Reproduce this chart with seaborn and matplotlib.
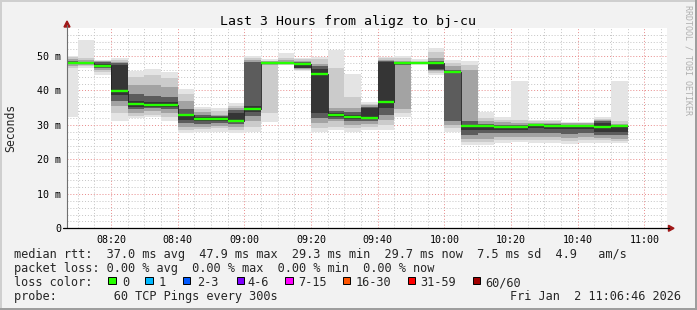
import numpy as np
import pandas as pd
import matplotlib
matplotlib.use("Agg")
import matplotlib.pyplot as plt
from matplotlib.lines import Line2D
from matplotlib.patches import Rectangle, Polygon
import seaborn as sns

# ---------------- data ----------------
bin_times = ["08:05", "08:10", "08:15", "08:20", "08:25", "08:30", "08:35", "08:40", "08:45",
             "08:50", "08:55", "09:00", "09:05", "09:10", "09:15", "09:20", "09:25", "09:30",
             "09:35", "09:40", "09:45", "09:50", "09:55", "10:00", "10:05", "10:10", "10:15",
             "10:20", "10:25", "10:30", "10:35", "10:40", "10:45", "10:50"]
median_ms = [47.9, 47.9, 47.1, 39.8, 36.1, 35.8, 35.8, 32.9, 31.8, 31.8, 31.1, 34.6, 47.9, 47.9,
             47.6, 44.8, 32.9, 32.4, 32.1, 36.7, 47.9, 47.9, 47.9, 45.4, 29.7, 29.7, 29.4, 29.4,
             30.0, 29.7, 29.7, 29.7, 29.3, 29.7]
# smoke layers: ping ranges, outermost (min/max) to innermost
layer1_lo = [32.4, 46.6, 44.6, 31.0, 31.9, 32.3, 31.0, 27.5, 28.0, 28.0, 27.6, 28.0, 30.8, 47.3, 45.5, 28.0, 28.5,
             28.0, 28.5, 28.5, 32.4, 47.5, 44.5, 28.0, 24.1, 24.1, 24.8, 25.1, 24.6, 24.6, 24.4, 24.6, 24.6, 24.6]
layer1_hi = [50.1, 54.6, 48.9, 49.3, 45.6, 46.2, 45.4, 40.4, 35.3, 34.8, 36.3, 50.1, 49.0, 50.8, 49.5, 49.8, 51.7,
             44.7, 36.6, 49.8, 50.1, 49.0, 52.4, 48.8, 48.4, 33.8, 32.2, 42.8, 31.4, 31.4, 30.9, 30.9, 32.4, 42.8]
layer2_lo = [46.5, 47.0, 45.3, 33.5, 32.7, 33.0, 32.3, 28.5, 28.8, 29.0, 28.6, 29.5, 33.5, 47.5, 46.0, 29.0, 29.5,
             29.0, 29.5, 30.0, 33.5, 47.6, 45.0, 29.0, 25.0, 25.0, 25.5, 25.5, 25.5, 25.5, 25.3, 25.5, 25.5, 25.2]
layer2_hi = [49.8, 49.3, 48.6, 48.7, 44.0, 44.5, 43.5, 39.0, 34.5, 34.0, 35.5, 49.5, 48.6, 49.5, 49.0, 49.0, 46.4,
             38.0, 36.0, 49.3, 49.3, 48.6, 51.0, 48.0, 47.5, 32.0, 31.5, 31.5, 31.0, 31.0, 30.6, 30.6, 31.8, 31.0]
layer3_lo = [47.2, 47.4, 46.0, 35.5, 33.5, 34.0, 33.5, 29.5, 29.5, 29.8, 29.5, 31.0, 47.3, 47.7, 46.3, 30.5, 31.0,
             30.0, 30.3, 31.5, 34.5, 47.7, 45.5, 30.0, 26.0, 26.0, 26.5, 26.5, 26.5, 26.5, 26.3, 26.5, 26.3, 26.0]
layer3_hi = [49.0, 48.8, 48.4, 48.3, 41.5, 41.5, 41.0, 37.0, 33.8, 33.0, 34.8, 48.7, 48.4, 48.7, 48.5, 47.8, 35.0,
             35.0, 35.8, 48.9, 48.5, 48.3, 49.5, 47.0, 46.0, 31.0, 30.8, 30.5, 30.6, 30.5, 30.4, 30.4, 31.3, 30.2]
layer4_lo = [47.6, 47.7, 46.5, 37.0, 34.5, 34.8, 34.5, 30.5, 30.3, 30.5, 30.3, 32.5, 47.6, 47.8, 46.5, 32.0, 31.8,
             31.0, 31.0, 33.0, 47.5, 47.8, 45.8, 31.0, 27.0, 27.5, 27.5, 27.5, 27.5, 27.5, 27.3, 27.5, 27.0, 27.0]
layer4_hi = [48.4, 48.3, 48.2, 48.0, 39.0, 38.5, 38.0, 34.5, 33.0, 32.5, 34.3, 48.1, 48.2, 48.3, 48.2, 47.0, 34.0,
             33.8, 35.3, 48.5, 48.2, 48.1, 48.5, 45.8, 31.0, 30.3, 30.0, 30.0, 30.3, 30.2, 30.1, 30.1, 31.0, 29.9]
layer5_lo = [47.8, 47.85, 46.9, 38.8, 35.3, 35.3, 35.2, 31.5, 31.0, 31.2, 30.8, 33.8, 47.8, 47.85, 46.6, 33.5, 32.3,
             31.7, 31.6, 35.0, 47.8, 47.85, 46.3, 45.0, 28.5, 28.5, 28.5, 28.5, 29.0, 28.8, 28.7, 28.8, 28.0, 28.0]
layer5_hi = [48.1, 48.0, 47.8, 47.5, 36.8, 36.5, 36.5, 33.2, 32.3, 32.2, 33.5, 35.5, 48.0, 48.0, 47.8, 46.2, 33.4,
             33.0, 34.8, 48.2, 48.0, 48.0, 48.0, 45.7, 30.0, 30.0, 29.8, 29.8, 30.2, 30.0, 30.0, 30.0, 30.5, 29.8]

x_tick_labels = ["08:20", "08:40", "09:00", "09:20", "09:40", "10:00", "10:20", "10:40", "11:00"]
y_tick_values = [0, 10, 20, 30, 40, 50]
y_tick_labels = ["0", "10 m", "20 m", "30 m", "40 m", "50 m"]
range_start, range_end = "08:06:46", "11:06:46"

title = "Last 3 Hours from aligz to bj-cu"
legend_line1 = "median rtt:  37.0 ms avg  47.9 ms max  29.3 ms min  29.7 ms now  7.5 ms sd  4.9   am/s"
legend_line2 = "packet loss: 0.00 % avg  0.00 % max  0.00 % min  0.00 % now"
legend_line4 = "probe:        60 TCP Pings every 300s"
date_text = "Fri Jan  2 11:06:46 2026"
loss_labels = ["0", "1", "2-3", "4-6", "7-15", "16-30", "31-59", "60/60"]
loss_colors = ["#26ff00", "#00b8ff", "#0059ff", "#7e00ff", "#ff00ff", "#ff5500", "#ff0000", "#a10000"]


def to_min(s):
    parts = [int(p) for p in s.split(":")]
    while len(parts) < 3:
        parts.append(0)
    return (parts[0] - 8) * 60 + parts[1] + parts[2] / 60.0


starts = np.array([to_min(t) for t in bin_times])
BIN = 5.0

# ---------------- figure ----------------
sns.set_style("white")
plt.rcParams["font.family"] = ["DejaVu Sans Mono"]

W, H, DPI = 697, 310, 100
fig = plt.figure(figsize=(W / DPI, H / DPI), dpi=DPI)
fig.patch.set_facecolor("#f2f2f2")


def fx(x):
    return x / W


def fy(y):
    return 1 - y / H


PL, PR, PT, PB = 67, 667, 28, 228.3
ax = fig.add_axes([fx(PL), fy(PB), (PR - PL) / W, (PB - PT) / H])
ax.set_facecolor("white")

layers = [(layer1_lo, layer1_hi), (layer2_lo, layer2_hi), (layer3_lo, layer3_hi),
          (layer4_lo, layer4_hi), (layer5_lo, layer5_hi)]
layer_colors = ["#e4e4e4", "#cbcbcb", "#a3a3a3", "#5c5c5c", "#353535"]
for (lo, hi), c in zip(layers, layer_colors):
    lo = np.array(lo)
    hi = np.array(hi)
    ax.bar(starts, hi - lo, bottom=lo, width=BIN, align="edge", color=c, linewidth=0, zorder=2)

step_df = pd.DataFrame({"t": list(starts) + [starts[-1] + BIN],
                        "rtt": list(median_ms) + [median_ms[-1]]})
sns.lineplot(data=step_df, x="t", y="rtt", drawstyle="steps-post", color="#202020",
             linewidth=0.6, ax=ax, zorder=3)
ax.hlines(median_ms, starts, starts + BIN, colors="#26ff00", linewidth=1.7, zorder=4)

ax.set_xlabel("")
ax.set_ylabel("")
ax.set_xlim(to_min(range_start), to_min(range_end))
ax.set_ylim(0, 58.1)

ax.set_xticks([to_min(t) for t in x_tick_labels])
ax.set_xticklabels(x_tick_labels)
ax.set_xticks(np.arange(10, 187, 5), minor=True)
ax.set_yticks(y_tick_values)
ax.set_yticklabels(y_tick_labels)
ax.set_yticks(np.arange(2, 58, 2), minor=True)
ax.set_axisbelow(True)
ax.grid(which="minor", color="#c4c4c4", linestyle=(0, (1, 2)), linewidth=0.7)
ax.grid(which="major", color="#e88a8a", linestyle=(0, (1, 2)), linewidth=0.7)
for s in ax.spines.values():
    s.set_visible(False)

ax.tick_params(axis="y", which="both", length=0, pad=4.3, labelsize=7.2, labelcolor="#000000")
ax.tick_params(axis="x", which="major", length=2.2, width=0.7, color="#e07070", pad=2.6,
               labelsize=7.2, labelcolor="#000000")
ax.tick_params(axis="x", which="minor", length=1.5, width=0.7, color="#909090")

# axes lines and arrows
fig.add_artist(Line2D([fx(67), fx(67)], [fy(PB), fy(25)], color="#707070", lw=0.8,
                      transform=fig.transFigure))
fig.add_artist(Line2D([fx(63), fx(669)], [fy(PB), fy(PB)], color="#000000", lw=0.9,
                      transform=fig.transFigure))
fig.add_artist(Polygon([[fx(64), fy(27)], [fx(70), fy(27)], [fx(67), fy(21)]], closed=True,
                       color="#a01818", transform=fig.transFigure))
fig.add_artist(Polygon([[fx(668.5), fy(PB - 3)], [fx(668.5), fy(PB + 3)], [fx(674), fy(PB)]],
                       closed=True, color="#a01818", transform=fig.transFigure))

# texts
fig.text(fx(348.5), fy(24.7), title, ha="center", va="baseline", fontsize=9.55, color="#000000")
fig.text(fx(10.5), fy(128), "Seconds", rotation=90, ha="center", va="center", fontsize=8.3)
fig.text(fx(688), fy(60), "RRDTOOL / TOBI OETIKER", rotation=270, ha="center", va="center",
         fontsize=6, color="#b0b0b0")

LEG = 8.57
fig.text(fx(13.6), fy(258.3), legend_line1, ha="left", va="baseline", fontsize=LEG)
fig.text(fx(13.6), fy(272.3), legend_line2, ha="left", va="baseline", fontsize=LEG)
fig.text(fx(13.6), fy(286.2), "loss color:", ha="left", va="baseline", fontsize=LEG)
fig.text(fx(13.6), fy(300.2), legend_line4, ha="left", va="baseline", fontsize=LEG)
fig.text(fx(681), fy(300.2), date_text, ha="right", va="baseline", fontsize=LEG)

box_x = [108.3, 145.0, 182.7, 236.7, 285.0, 342.7, 407.7, 472.7]
label_x = [122.3, 159.0, 196.7, 247.3, 298.5, 355.7, 420.7, 485.7]
for bx, lx, lab, col in zip(box_x, label_x, loss_labels, loss_colors):
    fig.add_artist(Rectangle((fx(bx), fy(284.3)), 7.7 / W, 7.7 / H, facecolor=col,
                             edgecolor="#000000", linewidth=0.7, transform=fig.transFigure))
    fig.text(fx(lx), fy(286.2), lab, ha="left", va="baseline", fontsize=LEG)

# frame shading
fig.add_artist(Rectangle((0, fy(2)), 1, 2 / H, facecolor="#cfcfcf", edgecolor="none",
                         transform=fig.transFigure))
fig.add_artist(Rectangle((0, 0), 2 / W, 1, facecolor="#cfcfcf", edgecolor="none",
                         transform=fig.transFigure))
fig.add_artist(Rectangle((0, 0), 1, 2 / H, facecolor="#9e9e9e", edgecolor="none",
                         transform=fig.transFigure))
fig.add_artist(Rectangle((fx(695), 0), 2 / W, 1, facecolor="#9e9e9e", edgecolor="none",
                         transform=fig.transFigure))

fig.savefig("out.png", dpi=DPI, facecolor=fig.get_facecolor())
